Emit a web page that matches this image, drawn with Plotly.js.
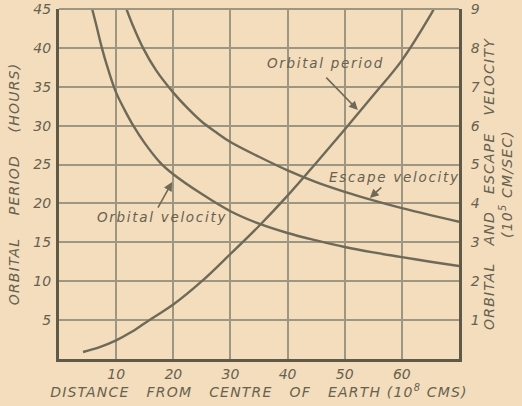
<!DOCTYPE html>
<html>
<head>
<meta charset="utf-8">
<script src="https://cdn.plot.ly/plotly-3.0.1.min.js"></script>
<style>
  html, body { margin: 0; padding: 0; background: #f3ddbd; }
  #chart { width: 522px; height: 406px; }
  .annotation-text { letter-spacing: 1.7px; }
  .g-xtitle text, .g-ytitle text, .g-y2title text { letter-spacing: 1.2px; }
</style>
</head>
<body>
<div id="chart"></div>
<script>
// Distance from the centre of the Earth, in units of 10^8 cm
const periodDistance = [4.2, 7, 10, 12.5, 15, 17.5, 20, 25, 30, 35, 40, 45, 50, 55, 60, 65, 65.6];
// Orbital period, hours
const periodHours = [0.9, 1.5, 2.4, 3.4, 4.6, 5.8, 7.0, 10.0, 13.5, 17.1, 21.0, 25.2, 29.5, 33.9, 38.4, 44.2, 45];

const orbitalDistance = [5.8, 6.5, 7.5, 8.7, 10, 11.5, 13, 15, 17.7, 20, 25, 30, 35, 40, 45, 50, 55, 60, 65, 70];
// Orbital velocity, 10^5 cm/sec
const orbitalVelocity = [9.0, 8.6, 8.0, 7.4, 6.85, 6.4, 6.0, 5.55, 5.05, 4.75, 4.24, 3.8, 3.48, 3.24, 3.05, 2.88, 2.74, 2.62, 2.5, 2.39];

const escapeDistance = [11.8, 13, 14.7, 17, 20, 22.5, 25, 27.5, 30, 35, 40, 45, 50, 55, 60, 65, 70];
// Escape velocity, 10^5 cm/sec
const escapeVelocity = [9.0, 8.55, 8.0, 7.42, 6.85, 6.45, 6.1, 5.83, 5.58, 5.2, 4.85, 4.55, 4.3, 4.08, 3.88, 3.7, 3.53];

const distanceTicks = [10, 20, 30, 40, 50, 60];
const hourTicks = [5, 10, 15, 20, 25, 30, 35, 40, 45];
const velocityTicks = [1, 2, 3, 4, 5, 6, 7, 8, 9];

const ink = '#67614f';
const curveInk = '#6e6a57';
const gridInk = '#9c9683';
const paper = '#f3ddbd';
const fontFamily = '"DejaVu Sans", sans-serif';
const nb = '\u00A0';

const curve = { color: curveInk, width: 2.4, shape: 'spline', smoothing: 1 };

const traces = [
  { x: periodDistance, y: periodHours, type: 'scatter', mode: 'lines',
    line: curve, yaxis: 'y', hoverinfo: 'skip' },
  { x: orbitalDistance, y: orbitalVelocity, type: 'scatter', mode: 'lines',
    line: curve, yaxis: 'y2', hoverinfo: 'skip' },
  { x: escapeDistance, y: escapeVelocity, type: 'scatter', mode: 'lines',
    line: curve, yaxis: 'y2', hoverinfo: 'skip' }
];

const tickFont = { family: fontFamily, size: 14, color: ink, style: 'italic' };
const titleFont = { family: fontFamily, size: 14, color: ink, style: 'italic' };
const labelFont = { family: fontFamily, size: 13.5, color: ink, style: 'italic' };

const arrow = { showarrow: true, arrowhead: 2, arrowsize: 1.1, arrowwidth: 1.6,
                arrowcolor: curveInk, text: '' };

const layout = {
  width: 522, height: 406,
  margin: { l: 59, r: 63, t: 9, b: 47 },
  paper_bgcolor: paper, plot_bgcolor: paper,
  showlegend: false,
  xaxis: {
    range: [0, 70], tickvals: distanceTicks, ticktext: distanceTicks.map(String),
    showgrid: true, gridcolor: gridInk, gridwidth: 2,
    showline: true, linecolor: '#5f5948', linewidth: 3,
    zeroline: false, ticks: '', ticklabelstandoff: 0, tickfont: tickFont,
    title: { text: 'DISTANCE' + nb + nb + ' FROM' + nb + nb + ' CENTRE' + nb + nb + ' OF' + nb + nb + ' EARTH (10<sup>8</sup> CMS)',
             font: titleFont, standoff: 0 }
  },
  yaxis: {
    range: [0, 45], tickvals: hourTicks, ticktext: hourTicks.map(String),
    showgrid: true, gridcolor: gridInk, gridwidth: 2,
    showline: true, linecolor: '#5f5948', linewidth: 3,
    zeroline: false, ticks: '', ticklabelstandoff: 2, tickfont: tickFont,
    title: { text: 'ORBITAL' + nb + nb + nb + ' PERIOD' + nb + nb + nb + ' (HOURS)', font: titleFont, standoff: 11 }
  },
  yaxis2: {
    range: [0, 9], overlaying: 'y', side: 'right',
    tickvals: velocityTicks, ticktext: velocityTicks.map(String),
    showgrid: false, showline: true, linecolor: '#5f5948', linewidth: 3,
    zeroline: false, ticks: '', ticklabelstandoff: 6, tickfont: tickFont,
    title: { text: 'ORBITAL' + nb + nb + ' AND' + nb + nb + ' ESCAPE' + nb + nb + ' VELOCITY<br>(10<sup>5</sup> CM/SEC)',
             font: titleFont, standoff: 6 }
  },
  shapes: [
    { type: 'line', xref: 'paper', yref: 'paper', x0: 0, x1: 1, y0: 1, y1: 1,
      line: { color: gridInk, width: 2 } }
  ],
  annotations: [
    Object.assign({ xref: 'x', yref: 'y', x: 52.3, y: 32.0, ax: -33, ay: -34 }, arrow),
    Object.assign({ xref: 'x', yref: 'y2', x: 54.4, y: 4.14, ax: 13, ay: -12 }, arrow),
    Object.assign({ xref: 'x', yref: 'y2', x: 19.8, y: 4.55, ax: -15, ay: 27 }, arrow),
    { xref: 'x', yref: 'y', x: 46.7, y: 38.0, text: 'Orbital period', showarrow: false, font: labelFont },
    { xref: 'x', yref: 'y', x: 58.7, y: 23.4, text: 'Escape velocity', showarrow: false, font: labelFont },
    { xref: 'x', yref: 'y', x: 18.0, y: 18.2, text: 'Orbital velocity', showarrow: false, font: labelFont }
  ]
};

Plotly.newPlot('chart', traces, layout, { staticPlot: true, displayModeBar: false });
</script>
</body>
</html>
